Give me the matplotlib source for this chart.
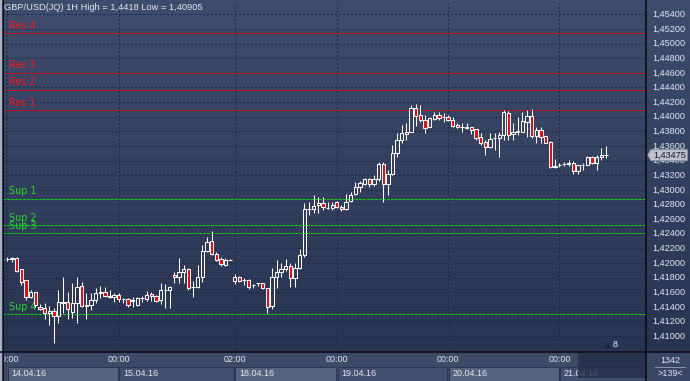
import matplotlib.pyplot as plt
import numpy as np
from matplotlib.colors import LinearSegmentedColormap
from matplotlib.patches import Polygon, Rectangle
from matplotlib.lines import Line2D

plt.rcParams['lines.scale_dashes'] = False
plt.rcParams['font.family'] = ['Liberation Sans', 'DejaVu Sans']

# GBP/USD hourly bars, bar 0 = 13.04.16 23:00
opens = [1.42055, 1.42050, 1.42055, 1.42069, 1.41918, 1.41768, 1.41536, 1.41604, 1.41399, 1.41385,
         1.41317, 1.41344, 1.41276, 1.41454, 1.41467, 1.41331, 1.41454, 1.41686, 1.41413, 1.41426,
         1.41495, 1.41590, 1.41604, 1.41549, 1.41536, 1.41563, 1.41508, 1.41508, 1.41481, 1.41426,
         1.41522, 1.41508, 1.41577, 1.41549, 1.41495, 1.41631, 1.41631, 1.41836, 1.41809, 1.41877,
         1.41918, 1.41665, 1.41672, 1.41809, 1.42164, 1.42301, 1.42123, 1.42055, 1.41973, 1.42041,
         1.41754, 1.41809, 1.41768, 1.41768, 1.41700, 1.41720, 1.41727, 1.41659, 1.41413, 1.41809,
         1.41877, 1.41918, 1.41959, 1.41795, 1.41932, 1.42110, 1.42738, 1.42738, 1.42793, 1.42820,
         1.42752, 1.42752, 1.42834, 1.42766, 1.42738, 1.42848, 1.42943, 1.43039, 1.43080, 1.43148,
         1.43080, 1.43148, 1.43353, 1.43080, 1.43217, 1.43504, 1.43681, 1.43763, 1.43791, 1.44119,
         1.44023, 1.43955, 1.43859, 1.43969, 1.44023, 1.43996, 1.43996, 1.43955, 1.43886, 1.43866,
         1.43859, 1.43859, 1.43832, 1.43722, 1.43654, 1.43586, 1.43702, 1.43708, 1.43750, 1.44051,
         1.43763, 1.43791, 1.43791, 1.43934, 1.44010, 1.43736, 1.43818, 1.43736, 1.43654, 1.43319,
         1.43333, 1.43347, 1.43360, 1.43367, 1.43258, 1.43340, 1.43340, 1.43449, 1.43367, 1.43449,
         1.43470]
highs = [1.42082, 1.42082, 1.42082, 1.42075, 1.41918, 1.41768, 1.41631, 1.41604, 1.41440, 1.41454,
         1.41413, 1.41385, 1.41631, 1.41809, 1.41604, 1.41727, 1.41809, 1.41741, 1.41590, 1.41590,
         1.41659, 1.41686, 1.41672, 1.41631, 1.41590, 1.41590, 1.41522, 1.41522, 1.41536, 1.41536,
         1.41549, 1.41618, 1.41604, 1.41563, 1.41727, 1.41713, 1.41680, 1.41877, 1.42069, 1.41973,
         1.41925, 1.41754, 1.41973, 1.42246, 1.42356, 1.42438, 1.42151, 1.42082, 1.42069, 1.42050,
         1.41850, 1.41823, 1.41795, 1.41775, 1.41713, 1.41731, 1.41731, 1.41662, 1.41932, 1.42041,
         1.42000, 1.42055, 1.42000, 1.42000, 1.42192, 1.42820, 1.42834, 1.42930, 1.42902, 1.42902,
         1.42834, 1.42834, 1.42848, 1.42793, 1.42943, 1.42971, 1.43107, 1.43121, 1.43162, 1.43162,
         1.43203, 1.43381, 1.43381, 1.43271, 1.43613, 1.43777, 1.43886, 1.43914, 1.44160, 1.44180,
         1.44160, 1.44023, 1.43996, 1.44064, 1.44064, 1.44051, 1.44023, 1.43996, 1.43914, 1.43914,
         1.43914, 1.43862, 1.43835, 1.43777, 1.43681, 1.43777, 1.43777, 1.43791, 1.44092, 1.44078,
         1.43914, 1.43996, 1.44064, 1.44092, 1.44105, 1.43859, 1.43859, 1.43740, 1.43667, 1.43422,
         1.43367, 1.43381, 1.43408, 1.43394, 1.43345, 1.43367, 1.43463, 1.43463, 1.43476, 1.43572,
         1.43599]
lows = [1.42028, 1.42028, 1.42014, 1.41877, 1.41700, 1.41495, 1.41522, 1.41399, 1.41358, 1.41235,
        1.41153, 1.40905, 1.41180, 1.41317, 1.41235, 1.41249, 1.41180, 1.41399, 1.41235, 1.41358,
        1.41454, 1.41522, 1.41536, 1.41522, 1.41467, 1.41467, 1.41454, 1.41399, 1.41399, 1.41413,
        1.41467, 1.41481, 1.41481, 1.41467, 1.41440, 1.41385, 1.41385, 1.41727, 1.41727, 1.41727,
        1.41631, 1.41536, 1.41659, 1.41741, 1.42151, 1.42110, 1.42028, 1.41959, 1.41959, 1.42035,
        1.41713, 1.41741, 1.41700, 1.41645, 1.41659, 1.41686, 1.41645, 1.41317, 1.41372, 1.41659,
        1.41809, 1.41891, 1.41672, 1.41672, 1.41918, 1.42082, 1.42656, 1.42684, 1.42684, 1.42725,
        1.42738, 1.42725, 1.42752, 1.42711, 1.42725, 1.42834, 1.42936, 1.42971, 1.43066, 1.43039,
        1.43053, 1.43121, 1.42834, 1.42930, 1.43203, 1.43449, 1.43640, 1.43681, 1.43791, 1.43873,
        1.43928, 1.43777, 1.43855, 1.43955, 1.43955, 1.43928, 1.43941, 1.43859, 1.43845, 1.43791,
        1.43832, 1.43763, 1.43681, 1.43613, 1.43476, 1.43572, 1.43545, 1.43449, 1.43681, 1.43681,
        1.43681, 1.43750, 1.43791, 1.43722, 1.43708, 1.43640, 1.43640, 1.43634, 1.43305, 1.43305,
        1.43312, 1.43326, 1.43326, 1.43217, 1.43217, 1.43271, 1.43333, 1.43360, 1.43271, 1.43408,
        1.43435]
closes = [1.42050, 1.42055, 1.42062, 1.41891, 1.41741, 1.41536, 1.41604, 1.41426, 1.41372, 1.41317,
          1.41344, 1.41276, 1.41467, 1.41467, 1.41372, 1.41454, 1.41672, 1.41413, 1.41426, 1.41495,
          1.41590, 1.41604, 1.41549, 1.41536, 1.41563, 1.41508, 1.41502, 1.41426, 1.41488, 1.41522,
          1.41515, 1.41563, 1.41549, 1.41481, 1.41631, 1.41625, 1.41672, 1.41809, 1.41877, 1.41918,
          1.41659, 1.41672, 1.41809, 1.42164, 1.42287, 1.42123, 1.42041, 1.41987, 1.42041, 1.42041,
          1.41809, 1.41754, 1.41768, 1.41672, 1.41693, 1.41727, 1.41659, 1.41399, 1.41809, 1.41877,
          1.41918, 1.41959, 1.41795, 1.41932, 1.42110, 1.42738, 1.42732, 1.42779, 1.42820, 1.42766,
          1.42748, 1.42793, 1.42766, 1.42738, 1.42834, 1.42930, 1.43039, 1.43094, 1.43148, 1.43080,
          1.43148, 1.43353, 1.43080, 1.43217, 1.43504, 1.43681, 1.43777, 1.43791, 1.44119, 1.44010,
          1.43955, 1.43845, 1.43982, 1.44023, 1.43982, 1.43990, 1.43955, 1.43873, 1.43859, 1.43859,
          1.43852, 1.43818, 1.43708, 1.43640, 1.43586, 1.43695, 1.43708, 1.43750, 1.44064, 1.43750,
          1.43791, 1.43798, 1.43941, 1.44010, 1.43736, 1.43818, 1.43722, 1.43640, 1.43312, 1.43326,
          1.43340, 1.43353, 1.43363, 1.43258, 1.43340, 1.43333, 1.43449, 1.43367, 1.43449, 1.43476,
          1.43475]

res_levels = [1.4409, 1.4437, 1.4460, 1.4514]
res_names = ['Res 1', 'Res 2', 'Res 3', 'Res 4']
sup_levels = [1.4288, 1.4252, 1.4241, 1.4130]
sup_names = ['Sup 1', 'Sup 2', 'Sup 3', 'Sup 4']

time_idx = [1, 25, 50, 72, 96, 120]
time_labels = ['00:00', '00:00', '02:00', '00:00', '00:00', '00:00']
date_labels = ['14.04.16', '15.04.16', '18.04.16', '19.04.16', '20.04.16', '21.04.16']

price_ticks = [1.410 + 0.002 * k for k in range(23)]
last_price = 1.43475
title = 'GBP/USD(JQ) 1H High = 1,4418 Low = 1,40905'

W, H = 690, 381
XLIM = (0.04, 138.65)
YLIM = (1.40783, 1.455955)
TXT = '#e3e8f0'


def fmt(v):
    return '{:.5f}'.format(v).replace('.', ',')


def gradient(a, top, bottom):
    cmap = LinearSegmentedColormap.from_list('bg', [bottom, top])
    a.imshow(np.linspace(0, 1, 256).reshape(-1, 1), cmap=cmap, origin='lower',
             extent=[0, 1, 0, 1], transform=a.transAxes, aspect='auto', zorder=0)


fig = plt.figure(figsize=(W / 100, H / 100), dpi=100)
fig.patch.set_facecolor('#2e3957')

# main price panel
ax = fig.add_axes([3 / W, 29 / H, 643 / W, 352 / H])
gradient(ax, '#3f4c6c', '#293352')
ax.set_xlim(*XLIM)
ax.set_ylim(*YLIM)
ax.axis('off')

for v in price_ticks:
    ax.axhline(v, color='#1c2a4c', lw=0.75, dashes=(1.4, 1.9), antialiased=False, zorder=1)
for i in time_idx:
    ax.axvline(i, color='#1c2a4c', lw=0.75, dashes=(1.4, 1.9), antialiased=False, zorder=1)

yt = ax.get_yaxis_transform()
for v, n in zip(res_levels, res_names):
    ax.axhline(v, color='#e80000', lw=0.75, dashes=(1.5, 0.75), antialiased=False, zorder=2)
    ax.annotate(n, (0.0095, v), xycoords=yt, xytext=(0, 3.2), textcoords='offset points',
                color='#ff1414', fontsize=6.9, family='DejaVu Sans', va='baseline')
for v, n in zip(sup_levels, sup_names):
    ax.axhline(v, color='#00d800', lw=0.75, dashes=(1.5, 0.75), antialiased=False, zorder=2)
    ax.annotate(n, (0.0095, v), xycoords=yt, xytext=(0, 3.2), textcoords='offset points',
                color='#1ee01e', fontsize=6.9, family='DejaVu Sans', va='baseline')

# candles
o = np.array(opens)
h = np.array(highs)
l = np.array(lows)
c = np.array(closes)
x = np.arange(len(o))
top = np.maximum(o, c)
bot = np.minimum(o, c)
ax.vlines(x, top, h, color='white', lw=0.75, zorder=3)
ax.vlines(x, l, bot, color='white', lw=0.75, zorder=3)
up = c >= o
ax.bar(x[up], (top - bot)[up], bottom=bot[up], width=0.72, facecolor='none',
       edgecolor='white', linewidth=0.75, zorder=4)
ax.bar(x[~up], (top - bot)[~up], bottom=bot[~up], width=0.72, facecolor='#ff0000',
       edgecolor='white', linewidth=0.75, zorder=4)

ax.text(0.0016, 1 - 8 / 352, title, transform=ax.transAxes, color=TXT,
        fontsize=6.7, va='center', ha='left', zorder=6)

xt = ax.get_xaxis_transform()
ax.plot([len(o) - 0.8], [0.021], transform=xt, marker='^', ms=3.5, color='#1e263c', zorder=5)
ax.text(len(o) + 0.5, 0.022, '8', transform=xt, color=TXT, fontsize=6.5, va='center', zorder=5)

# right price scale
axr = fig.add_axes([646 / W, 29 / H, 44 / W, 352 / H])
gradient(axr, '#3f4c6c', '#293352')
axr.set_xlim(0, 1)
axr.set_ylim(*YLIM)
axr.axis('off')
for v in price_ticks:
    axr.text(0.14, v, fmt(v), va='center', ha='left', fontsize=6.6, color=TXT)
hh = 5.5 / 7314
box = Polygon([(0.04, last_price), (0.11, last_price + hh), (0.94, last_price + hh),
               (0.94, last_price - hh), (0.11, last_price - hh)], closed=True,
              facecolor='#bcc1ca', edgecolor='#8d94a2', lw=0.7, zorder=5)
axr.add_patch(box)
axr.text(0.16, last_price, fmt(last_price), va='center', ha='left', fontsize=6.6,
         color='#141a28', zorder=6)

# time / date strip
axb = fig.add_axes([3 / W, 0, 643 / W, 29 / H])
axb.set_xlim(*XLIM)
axb.set_ylim(0, 29)
axb.set_facecolor('#3d4967')
axb.set_xticks([])
axb.set_yticks([])
for s in axb.spines.values():
    s.set_visible(False)
edges = time_idx + [XLIM[1]]
for k in range(len(time_idx)):
    fc = '#56627e' if k % 2 == 0 else '#434f6c'
    axb.add_patch(Rectangle((edges[k] + 0.15, 0), edges[k + 1] - edges[k] - 0.3, 14.5,
                            facecolor=fc, edgecolor='#2c3650', lw=0.7))
for i, t, d in zip(time_idx, time_labels, date_labels):
    axb.text(i, 21.3, t, ha='center', va='center', fontsize=6.5, color=TXT, clip_on=True)
    axb.text(i + 0.9, 7.2, d, ha='left', va='center', fontsize=6.5, color=TXT, clip_on=True)
axb.add_patch(Rectangle((0.894, 0.1), 0.106, 0.86, transform=axb.transAxes,
                        facecolor='#252e48', alpha=0.8, lw=0, zorder=5))

# corner box
axc = fig.add_axes([646 / W, 0, 44 / W, 29 / H])
axc.set_xlim(0, 1)
axc.set_ylim(0, 29)
axc.set_facecolor('#3a4664')
axc.set_xticks([])
axc.set_yticks([])
for s in axc.spines.values():
    s.set_visible(False)
axc.text(0.55, 20.5, '1342', ha='center', va='center', fontsize=6.5, color=TXT)
axc.plot([0.2, 0.88], [14, 14], color='#8d96aa', lw=0.7)
axc.text(0.55, 7.5, '>139<', ha='center', va='center', fontsize=6.5, color=TXT)

# frame lines
fig.add_artist(Rectangle((0, 0), 2 / W, 1, transform=fig.transFigure, facecolor='#a9b1be', lw=0))
fig.add_artist(Line2D([2.5 / W, 2.5 / W], [0, 1], color='#10141e', lw=0.8))
fig.add_artist(Line2D([646 / W, 646 / W], [0, 1], color='#0b0e16', lw=1.2))
fig.add_artist(Line2D([0, 1], [29 / H, 29 / H], color='#0b0e16', lw=1.2))

plt.savefig('out.png', dpi=100, facecolor=fig.get_facecolor())
